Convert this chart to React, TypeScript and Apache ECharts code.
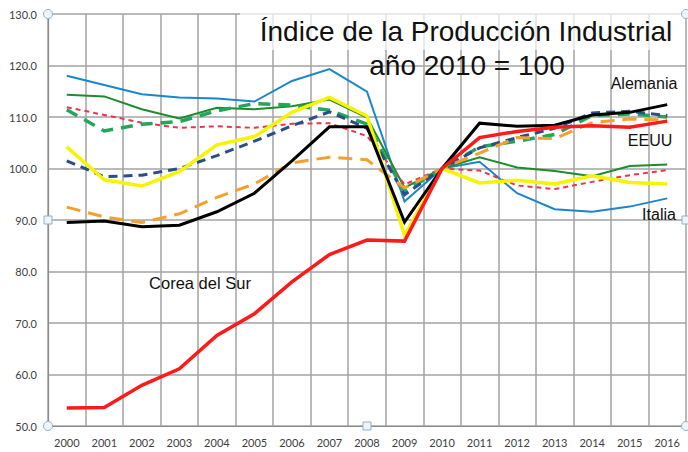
import React, { useEffect, useRef } from "react";
import * as echarts from "echarts";

const years = ["2000","2001","2002","2003","2004","2005","2006","2007","2008","2009","2010","2011","2012","2013","2014","2015","2016"];
const italia = [118.0, 116.2, 114.4, 113.8, 113.6, 113.0, 117.0, 119.3, 114.9, 93.6, 100, 101.3, 95.2, 92.1, 91.6, 92.6, 94.2];
const francia = [114.3, 114.0, 111.5, 109.7, 111.8, 111.5, 112.1, 113.4, 109.9, 96.3, 100, 102.2, 100.2, 99.5, 98.5, 100.5, 100.8];
const reinoUnido = [111.9, 110.4, 108.9, 107.9, 108.2, 107.9, 108.7, 108.8, 106.3, 96.9, 100, 99.6, 96.7, 96.0, 97.4, 98.7, 99.7];
const canada = [111.4, 107.3, 108.6, 109.1, 111.2, 112.6, 112.3, 111.3, 108.6, 95.5, 100, 104.2, 105.3, 106.6, 110.3, 110.6, 110.0];
const eeuu = [101.5, 98.4, 98.7, 100.0, 102.5, 105.3, 108.3, 111.0, 107.8, 94.9, 100, 104.0, 106.0, 107.8, 110.8, 111.1, 110.3];
const otro = [92.5, 90.6, 89.5, 91.2, 94.4, 97.0, 101.1, 102.2, 101.7, 96.2, 100, 103.0, 106.0, 105.8, 108.9, 109.6, 109.4];
const japon = [104.2, 97.8, 96.6, 99.4, 104.6, 106.2, 110.9, 113.8, 110.2, 87.0, 100, 97.2, 97.7, 97.0, 98.6, 97.3, 97.0];
const alemania = [89.5, 89.8, 88.7, 89.0, 91.6, 95.2, 101.5, 108.1, 108.1, 89.6, 100, 108.8, 108.2, 108.4, 110.4, 110.9, 112.4];
const corea = [53.5, 53.6, 57.9, 61.1, 67.6, 71.8, 78.0, 83.3, 86.1, 85.9, 100, 106.0, 107.2, 108.0, 108.3, 108.0, 109.2];

const yTicks = { min: 50, max: 130, interval: 10 };

function line(name: string, data: number[], color: string, width: number, dash?: number[]) {
  return {
    name,
    type: "line",
    data,
    symbol: "none",
    lineStyle: { color, width, type: dash ? dash : "solid", cap: "butt", join: "miter" },
    z: 3,
  };
}

export default function App() {
  const ref = useRef<HTMLDivElement>(null);
  useEffect(() => {
    if (!ref.current) return;
    const chart = echarts.init(ref.current, undefined, { renderer: "svg" });
    const handleCircle = (x: number, y: number) => ({
      type: "circle", shape: { cx: x, cy: y, r: 4.5 },
      style: { fill: "#eef4f9", stroke: "#8db3cc", lineWidth: 1 }, z: 200,
    });
    const handleSquare = (x: number, y: number) => ({
      type: "rect", shape: { x: x - 4, y: y - 4, width: 8, height: 8 },
      style: { fill: "#eef4f9", stroke: "#8db3cc", lineWidth: 1 }, z: 200,
    });
    const labelFont = "Liberation Sans, Arial, sans-serif";
    chart.setOption({
      animation: false,
      backgroundColor: "#ffffff",
      grid: { left: 48, right: 2, top: 14, bottom: 26 },
      xAxis: {
        type: "category",
        data: years,
        boundaryGap: true,
        axisLine: { show: true, lineStyle: { color: "#8c8c8c", width: 1.2 } },
        axisTick: { show: false },
        axisLabel: { color: "#404040", fontSize: 11, fontFamily: "Lato, sans-serif", margin: 11, interval: 0 },
        splitLine: { show: true, interval: 0, lineStyle: { color: "#a3a3a3", width: 1.5 } },
      },
      yAxis: {
        type: "value",
        min: yTicks.min,
        max: yTicks.max,
        interval: yTicks.interval,
        axisLine: { show: true, lineStyle: { color: "#8c8c8c", width: 1.2 } },
        axisTick: { show: false },
        axisLabel: { color: "#404040", fontSize: 11, fontFamily: "Lato, sans-serif", margin: 11, formatter: (v: number) => v.toFixed(1) },
        splitLine: { show: true, lineStyle: { color: "#a3a3a3", width: 1.5 } },
      },
      series: [
        line("Italia", italia, "#1c86cc", 2),
        line("Francia", francia, "#1e8c2c", 2),
        line("Reino Unido", reinoUnido, "#e8364c", 2, [5, 4]),
        line("Canadá", canada, "#23a55a", 3.5, [12, 8]),
        line("EEUU", eeuu, "#2a4e8a", 3, [9, 6]),
        line("México", otro, "#f5a02e", 3, [14, 8]),
        line("Japón", japon, "#f5f500", 3.5),
        line("Alemania", alemania, "#000000", 3),
        line("Corea del Sur", corea, "#ff1a1a", 3.5),
      ],
      graphic: [
        { type: "rect", shape: { x: 240, y: 4, width: 442, height: 46 }, style: { fill: "rgba(255,255,255,0.7)" }, z: 90 },
        { type: "text", x: 466, y: 31, z: 100, style: { text: "Índice de la Producción Industrial", font: `28px ${labelFont}`, fill: "#111", align: "center", verticalAlign: "middle" } },
        { type: "text", x: 467, y: 65, z: 100, style: { text: "año 2010 = 100", font: `28px ${labelFont}`, fill: "#111", align: "center", verticalAlign: "middle" } },
        { type: "text", x: 644, y: 83, z: 100, style: { text: "Alemania", font: `16px ${labelFont}`, fill: "#111", align: "center", verticalAlign: "middle" } },
        { type: "text", x: 650, y: 140, z: 100, style: { text: "EEUU", font: `16px ${labelFont}`, fill: "#111", align: "center", verticalAlign: "middle" } },
        { type: "text", x: 659, y: 214, z: 100, style: { text: "Italia", font: `16px ${labelFont}`, fill: "#111", align: "center", verticalAlign: "middle" } },
        { type: "text", x: 200, y: 283, z: 100, style: { text: "Corea del Sur", font: `16.5px ${labelFont}`, fill: "#111", align: "center", verticalAlign: "middle" } },
        handleCircle(48, 14),
        handleCircle(48, 426),
        handleCircle(686, 14),
        handleCircle(686, 426),
        handleSquare(48, 220),
        handleSquare(367, 426),
        handleSquare(686, 220),
      ],
    });
    return () => chart.dispose();
  }, []);
  return <div ref={ref} style={{ position: "fixed", left: 0, top: 0, width: 688, height: 452 }} />;
}
